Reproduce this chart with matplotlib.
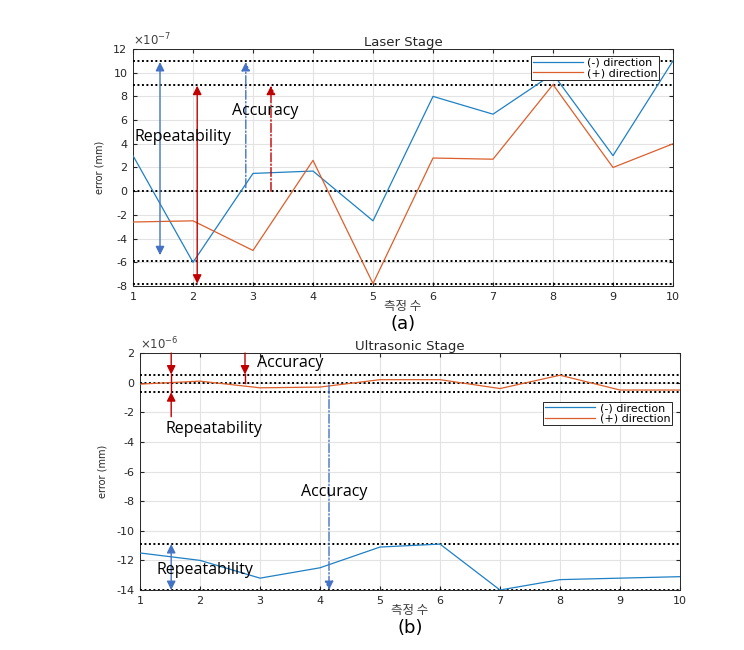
import matplotlib
matplotlib.use("Agg")
import matplotlib.pyplot as plt
import numpy as np

plt.rcParams['font.family'] = ['DejaVu Sans', 'Noto Sans CJK KR']
plt.rcParams['axes.unicode_minus'] = False

# ---------- data ----------
x = list(range(1, 11))
# Laser stage (units of 1e-7 mm)
laser_minus = [3.0, -6.0, 1.5, 1.7, -2.5, 8.0, 6.5, 9.9, 3.0, 11.0]
laser_plus = [-2.6, -2.5, -5.0, 2.6, -7.8, 2.8, 2.7, 9.0, 2.0, 4.0]
laser_hlines = [11.0, 9.0, 0.0, -5.9, -7.8]
# Ultrasonic stage (units of 1e-6 mm)
ultra_minus = [-11.5, -12.0, -13.2, -12.5, -11.1, -10.9, -14.0, -13.3, -13.2, -13.1]
ultra_plus = [-0.1, 0.1, -0.35, -0.3, 0.2, 0.2, -0.4, 0.5, -0.5, -0.5]
ultra_hlines = [0.5, 0.0, -0.6, -10.9, -14.0]

legend_labels = ['(-) direction', '(+) direction']
xlabel = '측정 수'
ylabel = 'error (mm)'

C_BLUE = '#1F80C4'
C_ORANGE = '#DC5F2B'
A_BLUE = '#4472C4'
A_RED = '#C00000'
ANN_FONT = ['Open Sans', 'DejaVu Sans']

fig = plt.figure(figsize=(7.44, 6.5), dpi=100)
ax1 = fig.add_axes([133/744, 1-286/650, 540/744, 237/650])
ax2 = fig.add_axes([140/744, 1-590/650, 540/744, 237/650])


def style(ax, ylim, yticks, exp, title, tag):
    ax.set_xlim(1, 10)
    ax.set_ylim(*ylim)
    ax.set_xticks(x)
    ax.set_yticks(yticks)
    ax.grid(True, color='#e3e3e3', linewidth=0.8)
    ax.set_axisbelow(True)
    ax.tick_params(direction='in', top=True, right=True, labelsize=8,
                   length=3, colors='#262626', pad=4)
    for s in ax.spines.values():
        s.set_color('#262626')
        s.set_linewidth(0.7)
    ax.set_title(title, fontsize=9.5, pad=2, color='#262626')
    ax.set_ylabel(ylabel, fontsize=7, color='#262626', labelpad=6)
    ax.set_xlabel(xlabel, fontsize=9, color='#404040', labelpad=-1,
                  family=['Noto Sans CJK KR', 'DejaVu Sans'])
    ax.text(0.0, 1.005, r'$\times 10^{%d}$' % exp, transform=ax.transAxes,
            fontsize=8.5, ha='left', va='bottom', color='#404040')
    ax.text(0.5, -0.16, tag, transform=ax.transAxes, fontsize=13,
            ha='center', va='center', color='black')


def arr(ax, x0, y0, x1, y1, color, style='-|>', ls='-'):
    ax.annotate('', xy=(x1, y1), xytext=(x0, y0),
                arrowprops=dict(arrowstyle=style, color=color, lw=1.0,
                                linestyle=ls, mutation_scale=13,
                                shrinkA=0, shrinkB=0), zorder=5)


def legend(ax, anchor):
    leg = ax.legend(loc='upper right', bbox_to_anchor=anchor, fontsize=8,
                    frameon=True, fancybox=False, edgecolor='#262626',
                    borderpad=0.15, labelspacing=0.05, handlelength=4.5,
                    handletextpad=0.4, borderaxespad=0, framealpha=1)
    leg.get_frame().set_linewidth(0.7)

# ---------- (a) Laser stage ----------
style(ax1, (-8, 12), np.arange(-8, 13, 2), -7, 'Laser Stage', '(a)')
for h in laser_hlines:
    ax1.axhline(h, color='black', linestyle=(0, (1, 1.3)), linewidth=1.4, zorder=3)
ax1.plot(x, laser_minus, color=C_BLUE, lw=0.9, label=legend_labels[0], zorder=4)
ax1.plot(x, laser_plus, color=C_ORANGE, lw=0.9, label=legend_labels[1], zorder=4)
arr(ax1, 1.45, 10.9, 1.45, -5.4, A_BLUE, '<|-|>')
arr(ax1, 2.07, 8.9, 2.07, -7.8, A_RED, '<|-|>')
arr(ax1, 2.88, 0.3, 2.88, 10.9, A_BLUE, '-|>', '-.')
arr(ax1, 3.3, 0.0, 3.3, 8.9, A_RED, '-|>', '-.')
ax1.text(2.65, 6.8, 'Accuracy', fontsize=11.5, family=ANN_FONT,
         va='center', ha='left', zorder=6)
ax1.text(1.02, 4.6, 'Repeatability', fontsize=11.5, family=ANN_FONT,
         va='center', ha='left', zorder=6)
legend(ax1, (0.975, 0.97))

# ---------- (b) Ultrasonic stage ----------
style(ax2, (-14, 2), np.arange(-14, 3, 2), -6, 'Ultrasonic Stage', '(b)')
for h in ultra_hlines:
    ax2.axhline(h, color='black', linestyle=(0, (1, 1.3)), linewidth=1.4, zorder=3)
ax2.plot(x, ultra_minus, color=C_BLUE, lw=0.9, label=legend_labels[0], zorder=4)
ax2.plot(x, ultra_plus, color=C_ORANGE, lw=0.9, label=legend_labels[1], zorder=4)
arr(ax2, 1.52, 2.0, 1.52, 0.55, A_RED)
ax2.plot([1.52, 1.52], [0.55, -0.6], color=A_RED, lw=1.0, zorder=5)
arr(ax2, 1.52, -2.3, 1.52, -0.65, A_RED)
arr(ax2, 2.75, 2.0, 2.75, 0.55, A_RED)
ax2.plot([2.75, 2.75], [0.55, 0.0], color=A_RED, lw=1.0, zorder=5)
arr(ax2, 1.52, -10.9, 1.52, -14.0, A_BLUE, '<|-|>')
arr(ax2, 4.15, -0.15, 4.15, -14.0, A_BLUE, '-|>', '-.')
ax2.text(2.95, 1.35, 'Accuracy', fontsize=11.5, family=ANN_FONT,
         va='center', ha='left', zorder=6)
ax2.text(1.42, -3.1, 'Repeatability', fontsize=11.5, family=ANN_FONT,
         va='center', ha='left', zorder=6)
ax2.text(3.68, -7.4, 'Accuracy', fontsize=11.5, family=ANN_FONT,
         va='center', ha='left', zorder=6)
ax2.text(1.28, -12.65, 'Repeatability', fontsize=11.5, family=ANN_FONT,
         va='center', ha='left', zorder=6)
legend(ax2, (0.985, 0.795))

fig.savefig('out.png', dpi=100)
